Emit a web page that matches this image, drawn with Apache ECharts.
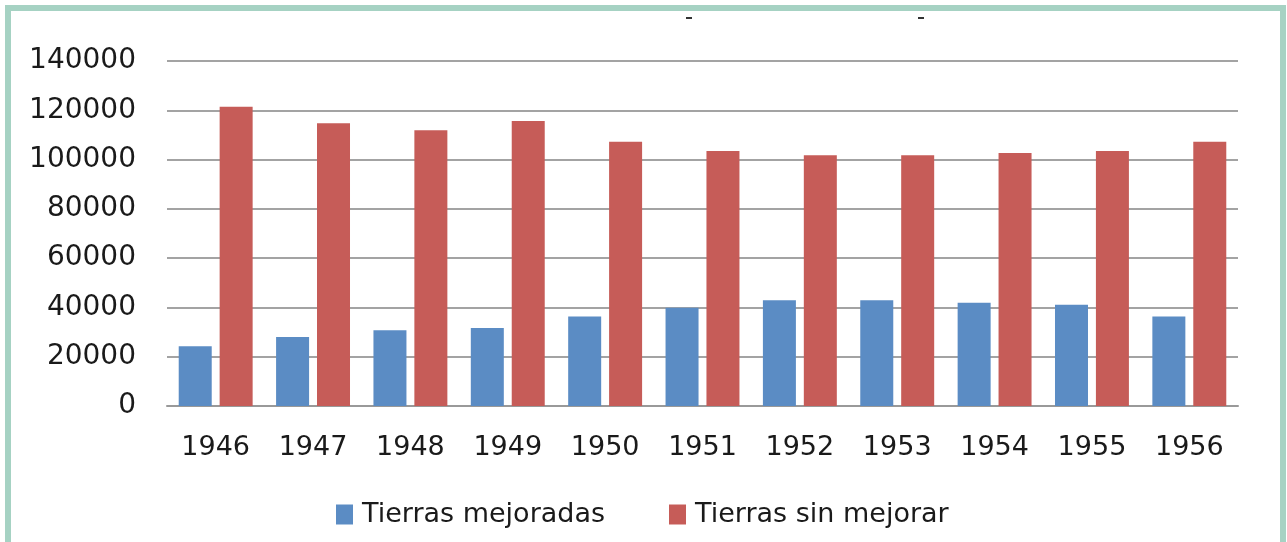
<!DOCTYPE html>
<html>
<head>
<meta charset="utf-8">
<script src="https://cdn.jsdelivr.net/npm/echarts@6/dist/echarts.min.js"></script>
<style>
  html, body { margin: 0; padding: 0; background: #fff; }
  #chart { width: 1287px; height: 542px; }
</style>
</head>
<body>
<div id="chart"></div>
<script>
// años
var years = ['1946', '1947', '1948', '1949', '1950', '1951', '1952', '1953', '1954', '1955', '1956'];
// Tierras mejoradas
var mejoradas = [24200, 28000, 30700, 31700, 36300, 39900, 42900, 42900, 41900, 41100, 36300];
// Tierras sin mejorar
var sinMejorar = [121400, 114700, 111900, 115700, 107200, 103500, 101800, 101800, 102700, 103500, 107200];

var font = 'DejaVu Sans';
var chart = echarts.init(document.getElementById('chart'), null, { renderer: 'canvas' });

chart.setOption({
  animation: false,
  backgroundColor: '#fff',
  grid: { left: 167, right: 49, top: 61, bottom: 136 },
  legend: {
    left: 331,
    top: 496,
    itemWidth: 17,
    itemHeight: 20,
    itemGap: 64,
    icon: 'rect',
    textStyle: { fontFamily: font, fontSize: 27, color: '#1a1a1a', padding: [0, 0, 0, 4] },
    data: ['Tierras mejoradas', 'Tierras sin mejorar']
  },
  xAxis: {
    type: 'category',
    data: years,
    axisLine: { lineStyle: { color: '#999', width: 2 } },
    axisTick: { show: false },
    axisLabel: { fontFamily: font, fontSize: 27, color: '#1a1a1a', margin: 28 }
  },
  yAxis: {
    type: 'value',
    min: 0,
    max: 140000,
    interval: 20000,
    axisLine: { show: false },
    axisTick: { show: false },
    splitLine: { lineStyle: { color: '#a3a3a3', width: 2 } },
    axisLabel: {
      fontFamily: font, fontSize: 28, color: '#1a1a1a', margin: 31,
      formatter: function (v) { return String(v); }
    }
  },
  series: [
    {
      name: 'Tierras mejoradas',
      type: 'bar',
      data: mejoradas,
      barWidth: 33,
      barGap: '24%',
      itemStyle: { color: '#5b8cc4' }
    },
    {
      name: 'Tierras sin mejorar',
      type: 'bar',
      data: sinMejorar,
      barWidth: 33,
      itemStyle: { color: '#c65c58' }
    }
  ],
  graphic: [
    // marco
    {
      type: 'rect',
      shape: { x: 8, y: 8, width: 1275, height: 560 },
      style: { fill: 'none', stroke: '#a6d2c3', lineWidth: 6 },
      silent: true
    },
    // restos del título recortado
    { type: 'rect', shape: { x: 686, y: 17, width: 6, height: 2 }, style: { fill: '#333' }, silent: true },
    { type: 'rect', shape: { x: 918, y: 17, width: 6, height: 2 }, style: { fill: '#333' }, silent: true }
  ]
});
</script>
</body>
</html>
